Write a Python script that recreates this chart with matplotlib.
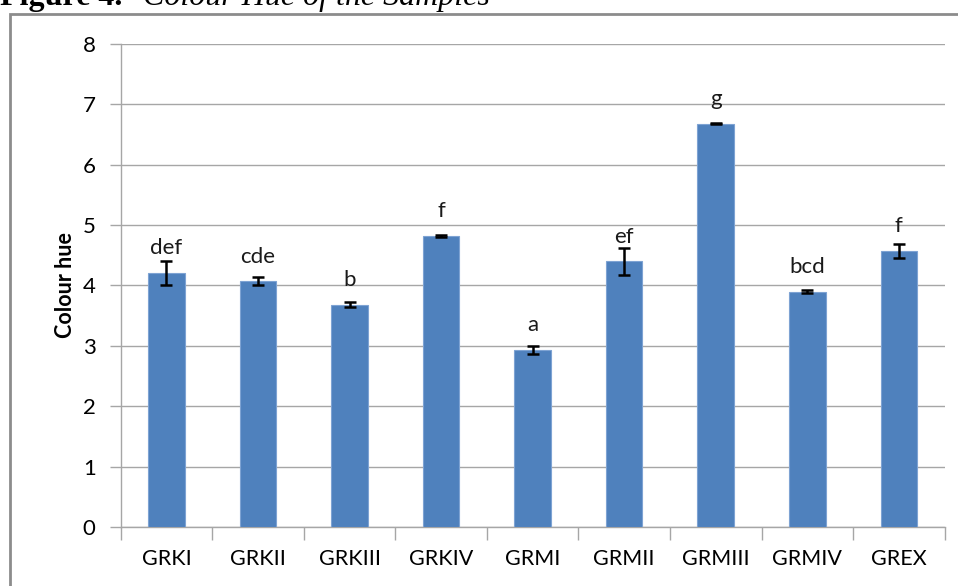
import matplotlib.pyplot as plt
from matplotlib.patches import Rectangle
import numpy as np

samples = ["GRKI", "GRKII", "GRKIII", "GRKIV", "GRMI", "GRMII", "GRMIII", "GRMIV", "GREX"]
hue = [4.21, 4.07, 3.68, 4.82, 2.93, 4.40, 6.68, 3.90, 4.57]
hue_err = [0.20, 0.07, 0.04, 0.02, 0.07, 0.22, 0.01, 0.02, 0.12]
letters = ["def", "cde", "b", "f", "a", "ef", "g", "bcd", "f"]

plt.rcParams['font.family'] = ['Lato', 'DejaVu Sans']

fig = plt.figure(figsize=(9.58, 5.86), dpi=100)
ax = fig.add_axes([0.126, 0.1007, 0.86, 0.8243])

x = np.arange(len(samples))
ax.bar(x, hue, width=0.4, color='#4F81BD', edgecolor='#7EA3D3', linewidth=0.8, zorder=3)
ax.errorbar(x, hue, yerr=hue_err, fmt='none', ecolor='black', elinewidth=1.8,
            capsize=4.5, capthick=1.8, zorder=4)
for xi, v, lab in zip(x, hue, letters):
    ax.text(xi, v + 0.31, lab, ha='center', va='baseline', fontsize=16, color='#1a1a1a')

ax.set_xlim(-0.5, len(samples) - 0.5)
ax.set_ylim(0, 8)
ax.set_yticks(range(0, 9))
ax.yaxis.grid(True, color='#A6A6A6', linewidth=1.0, zorder=0)
ax.set_axisbelow(True)

ax.set_xticks(x)
ax.set_xticklabels(samples, fontsize=15.5)
ax.set_xticks(np.arange(-0.5, len(samples)), minor=True)
ax.tick_params(axis='x', which='major', length=0, pad=16)
ax.tick_params(axis='x', which='minor', length=9, color='#A6A6A6', width=1.0)
ax.tick_params(axis='y', length=8, color='#A6A6A6', width=1.0, labelsize=16, pad=10)

for s in ['top', 'right']:
    ax.spines[s].set_visible(False)
for s in ['left', 'bottom']:
    ax.spines[s].set_color('#A6A6A6')
    ax.spines[s].set_linewidth(1.0)

ax.set_ylabel("Colour hue", fontsize=15.5, fontweight='bold', labelpad=5)

# outer chart frame
fig.patches.append(Rectangle((10 / 958, -0.05), 1.0, 1 - 14 / 586 + 0.05,
                             transform=fig.transFigure, fill=False,
                             edgecolor='#8C8C8C', linewidth=2.0))

# caption partly cut off at the top
fig.text(0.0, 0.992, "Figure 4.", fontsize=23, fontweight='bold',
         family='Liberation Serif', ha='left', va='baseline')
fig.text(0.149, 0.992, "Colour Hue of the Samples", fontsize=23, style='italic',
         family='Liberation Serif', ha='left', va='baseline')

fig.savefig("out.png", dpi=100)
